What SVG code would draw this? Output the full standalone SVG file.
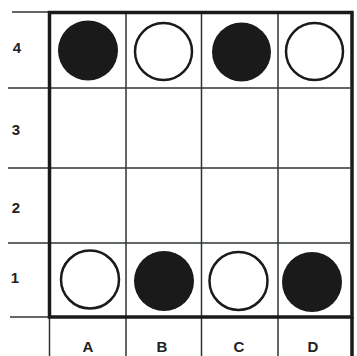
<svg xmlns="http://www.w3.org/2000/svg" width="357" height="356" viewBox="0 0 357 356">
<style>
.thin{stroke:#2b3431;stroke-width:1.5;fill:none}
.thick{stroke:#1a1a1a;stroke-width:3.5;fill:none}
.black{fill:#1a1a1a}
.white{fill:#fff;stroke:#1a1a1a;stroke-width:2.5}
.lbl{font-family:"Liberation Sans",Arial,sans-serif;font-weight:bold;font-size:15px;fill:#222;text-anchor:middle}
</style>
<rect width="357" height="356" fill="#fff"/>
<g id="grid">
<line class="thin" x1="12" y1="12" x2="50" y2="12"/>
<line class="thin" x1="8" y1="88" x2="350" y2="88"/>
<line class="thin" x1="8" y1="168" x2="350" y2="168"/>
<line class="thin" x1="8" y1="243" x2="350" y2="243"/>
<line class="thin" x1="10" y1="317" x2="50" y2="317"/>
<line class="thin" x1="126" y1="12" x2="126" y2="356"/>
<line class="thin" x1="201.5" y1="12" x2="201.5" y2="356"/>
<line class="thin" x1="278" y1="12" x2="278" y2="356"/>
<line class="thin" x1="49.5" y1="317" x2="49.5" y2="356"/>
<line class="thick" x1="352" y1="317" x2="352" y2="356"/>
<rect class="thick" x="49.5" y="12.5" width="302.5" height="304.5"/>
</g>
<g id="pieces">
<circle id="A4" class="black" cx="88" cy="50.5" r="30"/>
<circle id="B4" class="white" cx="163.5" cy="51.5" r="28.5"/>
<circle id="C4" class="black" cx="241.5" cy="52" r="29.5"/>
<circle id="D4" class="white" cx="314.5" cy="51.5" r="28.5"/>
<circle id="A1" class="white" cx="90" cy="279.5" r="29"/>
<circle id="B1" class="black" cx="164" cy="281" r="30"/>
<circle id="C1" class="white" cx="238.5" cy="281" r="29"/>
<circle id="D1" class="black" cx="312" cy="282" r="30"/>
</g>
<g id="labels">
<text class="lbl" x="17" y="53">4</text>
<text class="lbl" x="16" y="135">3</text>
<text class="lbl" x="16" y="213">2</text>
<text class="lbl" x="15" y="283">1</text>
<text class="lbl" x="88" y="352">A</text>
<text class="lbl" x="162" y="352">B</text>
<text class="lbl" x="239" y="352">C</text>
<text class="lbl" x="313" y="352">D</text>
</g>
</svg>
